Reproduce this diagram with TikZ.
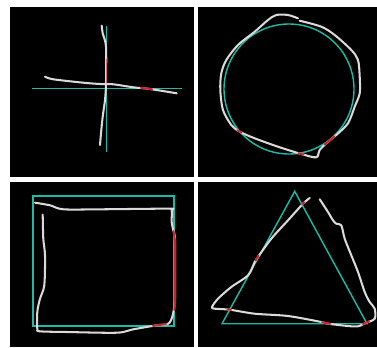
\documentclass[tikz,border=0pt]{standalone}
\definecolor{teal1}{RGB}{26,188,168}
\definecolor{pen}{RGB}{218,218,218}
\definecolor{miss}{RGB}{205,35,45}
\begin{document}
\begin{tikzpicture}[x=0.05cm,y=-0.05cm,
    panel/.style={fill=black},
    target/.style={draw=teal1,line width=2pt},
    sketch/.style={draw=pen,line width=2.9pt,line cap=round,line join=round},
    offline/.style={draw=miss,line width=2.9pt,line cap=round}]
\useasboundingbox (0,0) rectangle (377,347);
\fill[white] (0,0) rectangle (377,347);
% a) cross
\begin{scope}[shift={(10,7)}]
    \fill[panel] (0,0) rectangle (184,170);
    \draw[target] (96.7,18.7)--(96.7,144.7);
    \draw[target] (22.3,81.3)--(172.3,81.3);
    \draw[sketch] plot[smooth] coordinates {(91.7,18.7) (92.7,26.3) (96,39.7) (96,76.3) (95,93) (92.7,109.7) (91,126.3) (90,138)};
    \draw[sketch] plot[smooth] coordinates {(35,69.7) (43.3,72.3) (73.3,75.7) (90,77) (103.3,77.3) (123.3,80.3) (140,82) (166.7,86.3)};
    \draw[offline,draw=miss!60!pen,line width=1.2pt] (96,52)--(96,76);
    \draw[offline] (131,80.8)--(142,82.2);
\end{scope}
% b) circle
\begin{scope}[shift={(198,7)}]
    \fill[panel] (0,0) rectangle (179,170);
    \draw[target] (91,82) circle (65);
    \draw[sketch] plot[smooth] coordinates {(100,11.3) (90,8) (78.3,8) (70,13) (56.7,24.7) (40,38) (28.3,53) (23.3,66.3) (22.3,83) (25,103) (33.3,118) (41.7,124.7) (56.7,131.3) (80,139.7) (103.3,147) (118.3,150.3) (121.7,143) (130,134.7) (138.3,128) (150,116.3) (156.7,99.7) (161.7,86.3) (161.7,69.7) (160,53) (153.3,43) (136.7,28) (123.3,19.7) (101.7,13.7)};
    \draw[offline] (39.5,123.2)--(43.5,125.6);
    \draw[offline] (100.5,146.2)--(105.5,147.6);
    \draw[offline] (126.5,137.5)--(136.5,129.3);
\end{scope}
% c) square
\begin{scope}[shift={(10,182)}]
    \fill[panel] (0,0) rectangle (184,165);
    \draw[target] (23,14) rectangle (164,144);
    \draw[sketch] plot[smooth] coordinates {(32.7,32.7) (33.3,56.7) (35,73.3) (34.3,103.3) (30,116.7) (27.3,130) (27.3,146.7) (30,149.3) (56.7,150) (106.7,150.7) (123.3,147.3) (146.7,143.3) (158.3,141.7) (162.7,133.3) (165,116.7) (165,86.7) (165,56.7) (163.3,48.3) (161.7,40) (161.7,28.3) (158.3,26.7) (90,27.3) (53.3,27.3) (40,23.3) (25,20.7)};
    \draw[offline] plot[smooth] coordinates {(163.4,49) (165,60) (165,86.7) (165,116.7) (164.3,128)};
    \draw[offline] (143,143.9)--(156,142);
\end{scope}
% d) triangle
\begin{scope}[shift={(198,182)}]
    \fill[panel] (0,0) rectangle (179,165);
    \draw[target] (96.7,9.3)--(24,141.7)--(169,141.7)--cycle;
    \draw[sketch] plot[smooth] coordinates {(111.7,16) (105,21.7) (90,38.3) (73.3,56.7) (60,75) (56.7,80) (50,93.3) (33.3,105) (20,116.7) (14,125) (16.7,126.7) (31.7,127.7) (56.7,131.7) (90,134) (123.3,140) (130,141.7) (150,144) (160,144.3) (168.3,140.7) (176.7,136.7) (176.7,126.7) (171.7,120) (166.7,110) (160,90) (153.3,73.3) (146.7,56.7) (143.3,43.3) (138.3,41.7) (135,38.3) (130,30) (121.7,17.3)};
    \draw[offline] (104,22.6)--(106.5,20.3);
    \draw[offline] (57.5,78.5)--(60.5,73.8);
    \draw[offline] (29.5,127.5)--(33,127.8);
    \draw[offline] (124,140.2)--(132,141.9);
    \draw[offline] (165,142.2)--(171,139.4);
\end{scope}
\end{tikzpicture}
\end{document}
